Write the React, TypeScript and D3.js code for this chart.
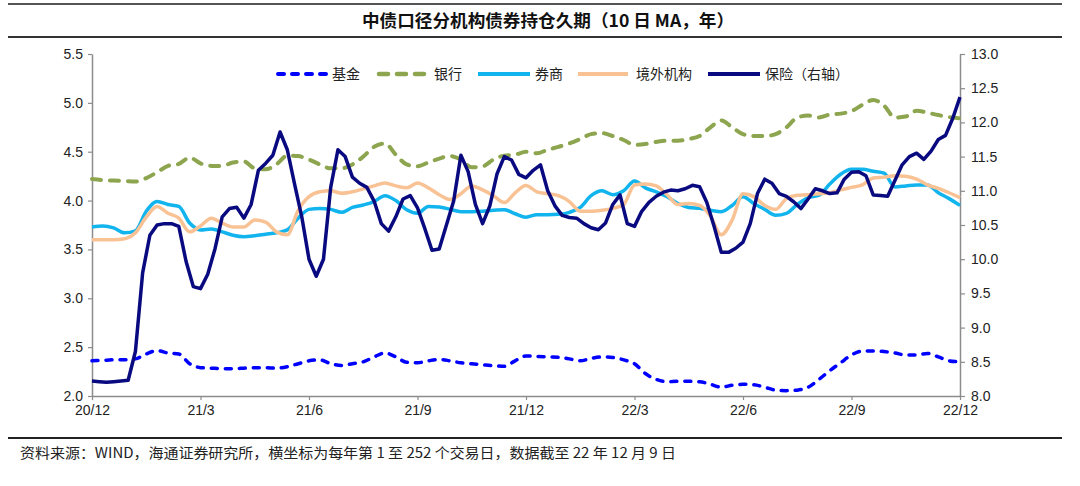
import React, { useRef, useEffect } from 'react';
import * as d3 from 'd3';

// x tick labels, one per quarter
const quarterLabels = ['20/12', '21/3', '21/6', '21/9', '21/12', '22/3', '22/6', '22/9', '22/12'];

// left axis series, sampled at 81 evenly spaced trading days (10 per quarter)
const fund = [
  2.36, 2.365, 2.37, 2.37, 2.38, 2.43, 2.465, 2.44, 2.43, 2.33,
  2.29, 2.285, 2.28, 2.28, 2.285, 2.29, 2.29, 2.285, 2.3, 2.33,
  2.36, 2.37, 2.33, 2.313, 2.33, 2.35, 2.4, 2.44, 2.4, 2.345,
  2.34, 2.36, 2.374, 2.36, 2.34, 2.33, 2.32, 2.31, 2.304, 2.36,
  2.41, 2.405, 2.4, 2.396, 2.38, 2.36, 2.385, 2.4, 2.395, 2.37,
  2.33, 2.23, 2.17, 2.146, 2.15, 2.15, 2.146, 2.12, 2.09, 2.11,
  2.12, 2.115, 2.09, 2.06, 2.055, 2.06, 2.09, 2.17, 2.26, 2.34,
  2.42, 2.46, 2.46, 2.455, 2.44, 2.42, 2.42, 2.435, 2.4, 2.36,
  2.35,
];

const bank = [
  4.22, 4.21, 4.205, 4.2, 4.195, 4.23, 4.29, 4.355, 4.375, 4.44,
  4.38, 4.355, 4.355, 4.39, 4.4, 4.33, 4.32, 4.37, 4.46, 4.455,
  4.42, 4.37, 4.33, 4.33, 4.37, 4.45, 4.55, 4.585, 4.47, 4.37,
  4.35, 4.39, 4.43, 4.456, 4.42, 4.34, 4.35, 4.42, 4.46, 4.47,
  4.5, 4.484, 4.52, 4.55, 4.585, 4.63, 4.68, 4.69, 4.66, 4.62,
  4.57, 4.58, 4.6, 4.613, 4.613, 4.63, 4.66, 4.75, 4.82, 4.75,
  4.68, 4.66, 4.66, 4.68, 4.75, 4.85, 4.87, 4.85, 4.88, 4.89,
  4.915, 4.98, 5.03, 4.97, 4.85, 4.86, 4.92, 4.9, 4.875, 4.855,
  4.84,
];

const broker = [
  3.73, 3.74, 3.72, 3.67, 3.69, 3.89, 3.99, 3.96, 3.94, 3.77,
  3.7, 3.71, 3.68, 3.645, 3.63, 3.64, 3.655, 3.67, 3.7, 3.82,
  3.91, 3.92, 3.91, 3.88, 3.93, 3.955, 3.99, 4.05, 4.0, 3.905,
  3.87, 3.94, 3.935, 3.91, 3.886, 3.886, 3.89, 3.9, 3.905, 3.865,
  3.83, 3.855, 3.855, 3.86, 3.88, 3.93, 4.05, 4.1, 4.06, 4.1,
  4.2, 4.13, 4.09, 4.04, 3.97, 3.93, 3.92, 3.9, 3.886, 3.95,
  4.04, 3.97, 3.91, 3.85, 3.87, 3.96, 4.03, 4.055, 4.17, 4.27,
  4.32, 4.32, 4.3, 4.28, 4.14, 4.15, 4.16, 4.16, 4.08, 4.02,
  3.95,
];

const foreign = [
  3.6, 3.6, 3.6, 3.61, 3.67, 3.83, 3.94, 3.87, 3.82, 3.68,
  3.74, 3.82, 3.77, 3.73, 3.73, 3.8, 3.78, 3.68, 3.65, 3.9,
  4.04, 4.09, 4.1, 4.075, 4.09, 4.12, 4.15, 4.18, 4.15, 4.13,
  4.18, 4.13, 4.06, 4.01, 4.07, 4.15, 4.11, 4.05, 3.98, 4.08,
  4.155, 4.09, 4.07, 4.05, 3.99, 3.89, 3.89, 3.9, 3.92, 3.96,
  4.16, 4.17, 4.15, 4.06, 3.96, 3.97, 3.95, 3.84, 3.65, 3.8,
  4.07, 4.04, 3.95, 3.91, 4.02, 4.055, 4.06, 4.07, 4.08, 4.11,
  4.135, 4.16, 4.23, 4.24, 4.255, 4.25, 4.22, 4.16, 4.125, 4.08,
  4.03,
];

// right axis series, sampled at 121 evenly spaced trading days (15 per quarter)
const insurance = [
  8.22, 8.21, 8.2, 8.21, 8.22, 8.23, 8.65, 9.8, 10.35, 10.5,
  10.52, 10.52, 10.48, 9.97, 9.6, 9.57, 9.78, 10.15, 10.62, 10.74,
  10.76, 10.6, 10.8, 11.3, 11.4, 11.52, 11.86, 11.6, 11.1, 10.62,
  10.0, 9.75, 10.0, 11.05, 11.6, 11.5, 11.2, 11.11, 11.05, 10.85,
  10.52, 10.41, 10.62, 10.88, 10.93, 10.75, 10.45, 10.13, 10.15, 10.5,
  10.85, 11.52, 11.28, 10.8, 10.52, 10.78, 11.25, 11.5, 11.45, 11.24,
  11.19, 11.3, 11.38, 11.0, 10.78, 10.64, 10.61, 10.6, 10.52, 10.46,
  10.43, 10.53, 10.8, 10.94, 10.52, 10.48, 10.7, 10.83, 10.92, 10.98,
  11.01, 11.0, 11.03, 11.08, 11.06, 10.83, 10.48, 10.1, 10.1, 10.16,
  10.25, 10.52, 10.96, 11.17, 11.11, 10.96, 10.92, 10.84, 10.74, 10.88,
  11.03, 11.0, 10.96, 10.97, 11.17, 11.27, 11.28, 11.22, 10.94, 10.93,
  10.92, 11.15, 11.38, 11.5, 11.55, 11.46, 11.58, 11.75, 11.81, 12.06,
  12.37,
];

const leftTicks = [2.0, 2.5, 3.0, 3.5, 4.0, 4.5, 5.0, 5.5];
const rightTicks = [8.0, 8.5, 9.0, 9.5, 10.0, 10.5, 11.0, 11.5, 12.0, 12.5, 13.0];

const series = [
  { name: '基金', data: fund, axis: 'left', color: '#0000ff', width: 3.5, dash: '6,8', curve: d3.curveMonotoneX },
  { name: '银行', data: bank, axis: 'left', color: '#8da54f', width: 4, dash: '9,9', curve: d3.curveMonotoneX },
  { name: '券商', data: broker, axis: 'left', color: '#12b4ee', width: 3.5, dash: null, curve: d3.curveMonotoneX },
  { name: '境外机构', data: foreign, axis: 'left', color: '#f9c294', width: 3.5, dash: null, curve: d3.curveMonotoneX },
  { name: '保险（右轴）', data: insurance, axis: 'right', color: '#0a0a80', width: 3.5, dash: null, curve: d3.curveLinear },
];

const W = 1080;
const H = 486;
const margin = { top: 54, right: 120, bottom: 90, left: 92 };
const numFont = '"Liberation Sans Narrow", "Arial Narrow", "Liberation Sans", Arial, sans-serif';
const cjkFont = '"Noto Sans CJK SC", "Noto Sans", sans-serif';

const Chart = () => {
  const ref = useRef(null);

  useEffect(() => {
    const svg = d3.select(ref.current);
    svg.selectAll('*').remove();

    const x0 = margin.left;
    const x1 = W - margin.right;
    const y0 = H - margin.bottom;
    const y1 = margin.top;

    // one unit = one quarter
    const x = d3.scaleLinear().domain([0, quarterLabels.length - 1]).range([x0, x1]);
    const yL = d3.scaleLinear().domain([2.0, 5.5]).range([y0, y1]);
    const yR = d3.scaleLinear().domain([8.0, 13.0]).range([y0, y1]);

    // rules round the title and above the footnote
    svg.append('line').attr('x1', 8).attr('x2', 1062).attr('y1', 4).attr('y2', 4)
      .attr('stroke', '#555').attr('stroke-width', 2);
    svg.append('line').attr('x1', 8).attr('x2', 1062).attr('y1', 37).attr('y2', 37)
      .attr('stroke', '#333').attr('stroke-width', 2);
    svg.append('line').attr('x1', 8).attr('x2', 1062).attr('y1', 438).attr('y2', 438)
      .attr('stroke', '#222').attr('stroke-width', 2);

    svg.append('text')
      .attr('x', 362).attr('y', 27)
      .attr('textLength', 372).attr('lengthAdjust', 'spacingAndGlyphs')
      .attr('font-family', cjkFont)
      .attr('font-size', 17).attr('font-weight', 'bold')
      .attr('fill', '#111')
      .text('中债口径分机构债券持仓久期（10 日 MA，年）');

    svg.append('text')
      .attr('x', 20).attr('y', 458)
      .attr('textLength', 656).attr('lengthAdjust', 'spacingAndGlyphs')
      .attr('font-family', cjkFont)
      .attr('font-size', 14)
      .attr('fill', '#222')
      .text('资料来源：WIND，海通证券研究所，横坐标为每年第 1 至 252 个交易日，数据截至 22 年 12 月 9 日');

    // axes
    const axisColor = '#8c8c8c';
    const gL = svg.append('g').attr('transform', `translate(${x0},0)`)
      .call(d3.axisLeft(yL).tickValues(leftTicks).tickFormat(d3.format('.1f')).tickSize(4).tickSizeOuter(0));
    const gR = svg.append('g').attr('transform', `translate(${x1},0)`)
      .call(d3.axisRight(yR).tickValues(rightTicks).tickFormat(d3.format('.1f')).tickSize(5).tickSizeOuter(0));
    const gB = svg.append('g').attr('transform', `translate(0,${y0})`)
      .call(d3.axisBottom(x).tickValues(d3.range(quarterLabels.length)).tickFormat(i => quarterLabels[i]).tickSize(4).tickSizeOuter(0));

    [gL, gR, gB].forEach(g => {
      g.select('.domain').attr('stroke', axisColor).attr('stroke-width', 1.5);
      g.selectAll('.tick line').attr('stroke', axisColor).attr('stroke-width', 1.2);
      g.selectAll('.tick text')
        .attr('fill', '#222')
        .attr('font-family', numFont)
        .attr('font-size', 14);
    });
    gL.selectAll('.tick text').attr('x', -9);
    gR.selectAll('.tick text').attr('x', 11);
    gB.selectAll('.tick text').attr('y', 9);

    // lines
    series.forEach(s => {
      const n = s.data.length - 1;
      const y = s.axis === 'left' ? yL : yR;
      const line = d3.line()
        .x((_, i) => x((i / n) * (quarterLabels.length - 1)))
        .y(d => y(d))
        .curve(s.curve);
      const path = svg.append('path')
        .datum(s.data)
        .attr('d', line)
        .attr('fill', 'none')
        .attr('stroke', s.color)
        .attr('stroke-width', s.width)
        .attr('stroke-linejoin', 'round')
        .attr('stroke-linecap', s.dash ? 'round' : 'butt');
      if (s.dash) path.attr('stroke-dasharray', s.dash);
    });

    // legend
    const legendPos = [
      { sx: 278, ex: 326, tx: 332 },
      { sx: 379, ex: 425, tx: 434 },
      { sx: 478, ex: 530, tx: 535 },
      { sx: 578, ex: 628, tx: 636 },
      { sx: 708, ex: 760, tx: 765 },
    ];
    const ly = 74;
    series.forEach((s, i) => {
      const p = legendPos[i];
      const l = svg.append('line')
        .attr('x1', p.sx).attr('x2', p.ex).attr('y1', ly).attr('y2', ly)
        .attr('stroke', s.color).attr('stroke-width', s.width + 0.5)
        .attr('stroke-linecap', s.dash ? 'round' : 'butt');
      if (s.dash) l.attr('stroke-dasharray', s.dash);
      svg.append('text')
        .attr('x', p.tx).attr('y', ly + 5)
        .attr('font-family', cjkFont)
        .attr('font-size', 14)
        .attr('fill', '#222')
        .text(s.name);
    });
  }, []);

  return <svg ref={ref} width={W} height={H} style={{ display: 'block', background: '#fff' }} />;
};

export default function App() {
  return (
    <div style={{ position: 'fixed', left: 0, top: 0, width: W, height: H, background: '#fff' }}>
      <Chart />
    </div>
  );
}
